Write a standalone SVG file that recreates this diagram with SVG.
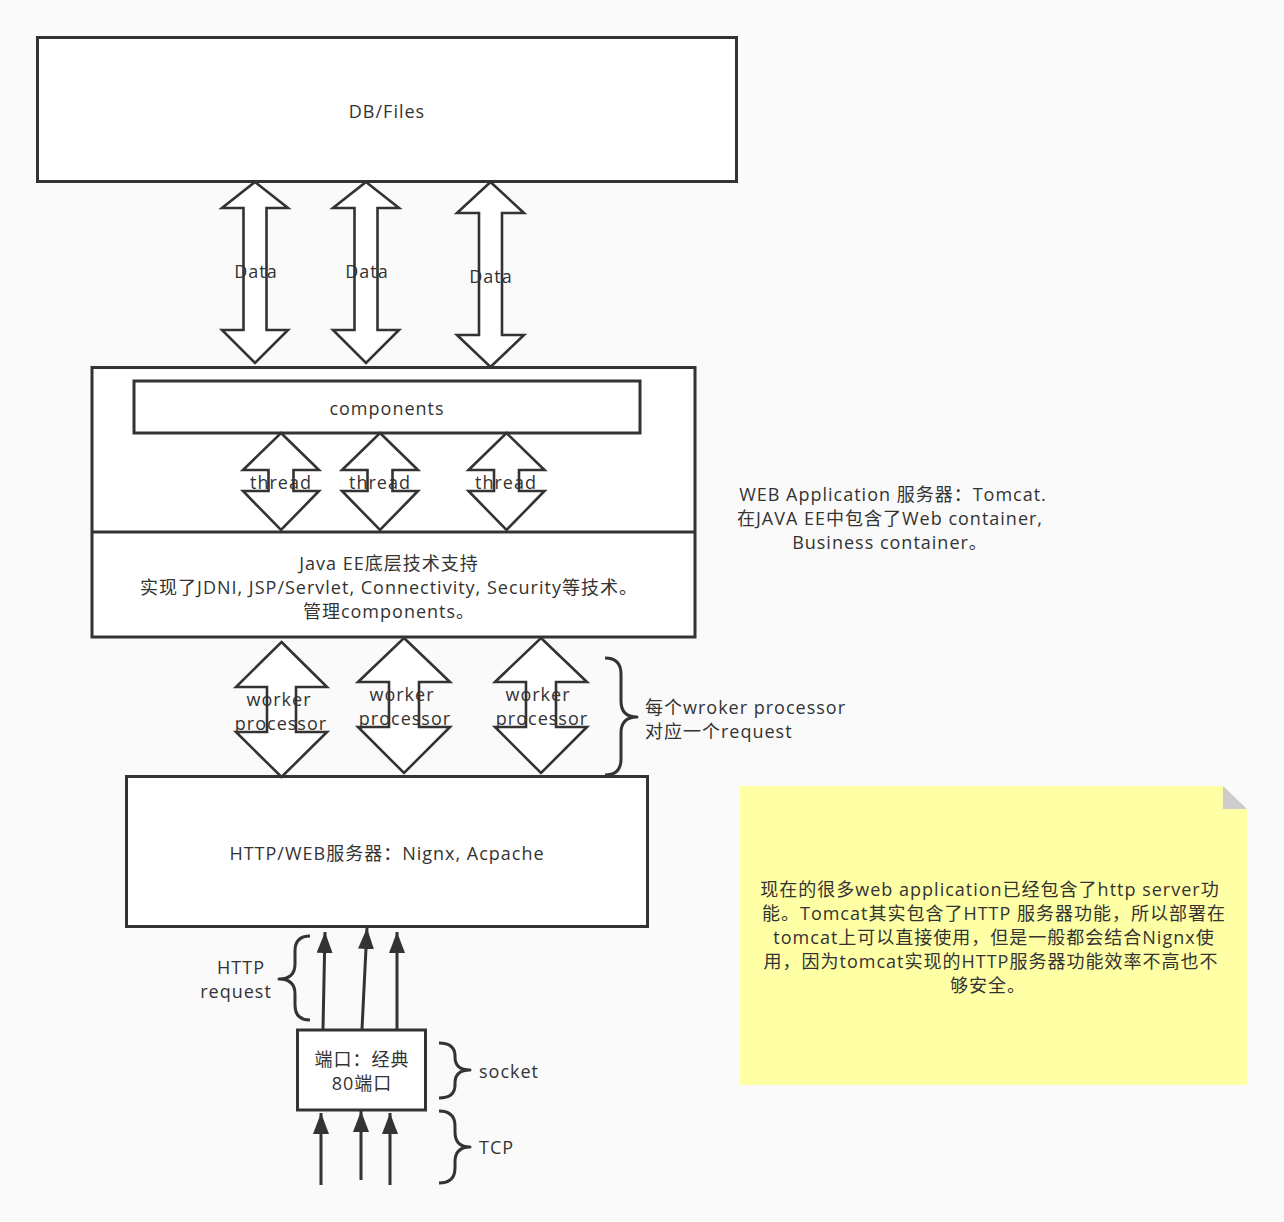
<svg xmlns="http://www.w3.org/2000/svg" width="1284" height="1222" viewBox="0 0 1284 1222">
<defs>
<style>
.box{fill:#ffffff;stroke:#333333;stroke-width:3}
.barrow{fill:#ffffff;stroke:#333333;stroke-width:2.6;stroke-linejoin:miter}
.line{fill:none;stroke:#333333;stroke-width:3}
.brace{fill:none;stroke:#333333;stroke-width:3;stroke-linejoin:round}
text{font-family:"Open Sans","Noto Sans CJK SC",sans-serif;font-size:18px;letter-spacing:1px;fill:#333333}
.c{text-anchor:middle;dominant-baseline:central}
.l{text-anchor:start;dominant-baseline:central}
</style>
<marker id="ah" markerUnits="userSpaceOnUse" markerWidth="22" markerHeight="16" refX="21" refY="8" orient="auto">
<path d="M0,0 L21,8 L0,16 Z" fill="#333333"/>
</marker>
</defs>
<rect x="0" y="0" width="1284" height="1222" fill="#fafafa"/>

<g id="db">
<rect class="box" x="37.5" y="37.5" width="699" height="144"/>
<text class="c" x="387" y="111">DB/Files</text>
</g>

<g id="container">
<rect class="box" x="92" y="367.5" width="603" height="269.5"/>
<line class="line" x1="92" y1="532" x2="695" y2="532"/>
<text class="c" x="389" y="563">Java EE底层技术支持</text>
<text class="c" x="389" y="587">实现了JDNI, JSP/Servlet, Connectivity, Security等技术。</text>
<text class="c" x="389" y="611">管理components。</text>
</g>

<g id="components">
<rect class="box" x="134" y="381" width="506" height="52"/>
<text class="c" x="387" y="408">components</text>
</g>

<g id="http-server">
<rect class="box" x="126.5" y="776.5" width="521" height="150"/>
<text class="c" x="387" y="853">HTTP/WEB服务器：Nignx, Acpache</text>
</g>

<g id="port">
<rect class="box" x="297.5" y="1030" width="128" height="80"/>
<text class="c" x="362" y="1059">端口：经典</text>
<text class="c" x="362" y="1083">80端口</text>
</g>

<g id="tomcat-note">
<text class="c" x="893" y="494">WEB Application 服务器：Tomcat.</text>
<text class="c" x="890" y="518">在JAVA EE中包含了Web container,</text>
<text class="c" x="890" y="542">Business container。</text>
</g>

<g id="note">
<path d="M740,786 L1223,786 L1247,809 L1247,1085 L740,1085 Z" fill="#ffffa6"/>
<path d="M1223,786 L1223,809 L1247,809 Z" fill="#cccccc"/>
<text class="c" x="990" y="889">现在的很多web application已经包含了http server功</text>
<text class="c" x="994" y="913">能。Tomcat其实包含了HTTP 服务器功能，所以部署在</text>
<text class="c" x="994" y="937">tomcat上可以直接使用，但是一般都会结合Nignx使</text>
<text class="c" x="991" y="961">用，因为tomcat实现的HTTP服务器功能效率不高也不</text>
<text class="c" x="988" y="985">够安全。</text>
</g>

<g id="connectors">
<!-- Data arrows -->
<path class="barrow" d="M255,182 L288,208 L266.5,208 L266.5,330 L288,330 L255,363 L222,330 L243.5,330 L243.5,208 L222,208 Z"/>
<path class="barrow" d="M366,182 L399,208 L377.5,208 L377.5,330 L399,330 L366,363 L333,330 L354.5,330 L354.5,208 L333,208 Z"/>
<path class="barrow" d="M490.5,182 L524,213 L502,213 L502,335 L524,335 L490.5,367 L457,335 L479,335 L479,213 L457,213 Z"/>
<text class="c" x="256" y="271">Data</text>
<text class="c" x="367" y="271">Data</text>
<text class="c" x="491" y="276">Data</text>

<!-- thread arrows -->
<path class="barrow" d="M281,433 L319,470 L293.5,470 L293.5,491 L319,491 L281,530 L243,491 L268.5,491 L268.5,470 L243,470 Z"/>
<path class="barrow" d="M380,433 L418,470 L392.5,470 L392.5,491 L418,491 L380,530 L342,491 L367.5,491 L367.5,470 L342,470 Z"/>
<path class="barrow" d="M506.5,433 L544.5,470 L519,470 L519,491 L544.5,491 L506.5,530 L468.5,491 L494,491 L494,470 L468.5,470 Z"/>
<text class="c" x="281" y="482">thread</text>
<text class="c" x="380" y="482">thread</text>
<text class="c" x="506" y="482">thread</text>

<!-- worker processor arrows -->
<path class="barrow" d="M281.5,642 L327,687 L296,687 L296,732 L327,732 L281.5,777 L236,732 L267,732 L267,687 L236,687 Z"/>
<path class="barrow" d="M404,638 L450,682 L419,682 L419,727 L450,727 L404,773 L358,727 L389,727 L389,682 L358,682 Z"/>
<path class="barrow" d="M541,638 L587,682 L556,682 L556,727 L587,727 L541,773 L495,727 L526,727 L526,682 L495,682 Z"/>
<text class="c" x="279" y="699">worker</text>
<text class="c" x="281" y="723">processor</text>
<text class="c" x="402" y="694">worker</text>
<text class="c" x="405" y="718">processor</text>
<text class="c" x="538" y="694">worker</text>
<text class="c" x="542" y="718">processor</text>

<!-- braces -->
<path class="brace" d="M605,658 Q621,658 621,674 L621,701 Q621,717 637,717 Q621,717 621,733 L621,759 Q621,775 605,775"/>
<text class="l" x="645" y="707">每个wroker processor</text>
<text class="l" x="645" y="731">对应一个request</text>

<path class="brace" d="M310,936 Q295,936 295,951 L295,964 Q295,979 279,979 Q295,979 295,994 L295,1005 Q295,1020 310,1020"/>
<text class="c" x="241" y="967">HTTP</text>
<text class="c" x="236" y="991">request</text>

<path class="brace" d="M439,1043 Q455,1043 455,1056 L455,1057 Q455,1070 470,1070 Q455,1070 455,1083 L455,1085 Q455,1098 439,1098"/>
<text class="l" x="479" y="1071">socket</text>

<path class="brace" d="M439,1111 Q455,1111 455,1126 L455,1132 Q455,1147 470,1147 Q455,1147 455,1162 L455,1168 Q455,1183 439,1183"/>
<text class="l" x="479" y="1147">TCP</text>

<!-- HTTP request arrows -->
<line class="line" x1="323" y1="1029" x2="325" y2="932" marker-end="url(#ah)"/>
<line class="line" x1="362" y1="1029" x2="367" y2="928" marker-end="url(#ah)"/>
<line class="line" x1="397" y1="1029" x2="397" y2="932" marker-end="url(#ah)"/>

<!-- TCP arrows -->
<line class="line" x1="321" y1="1185" x2="321" y2="1113" marker-end="url(#ah)"/>
<line class="line" x1="361" y1="1180" x2="361" y2="1111" marker-end="url(#ah)"/>
<line class="line" x1="390" y1="1185" x2="390" y2="1113" marker-end="url(#ah)"/>
</g>
</svg>
